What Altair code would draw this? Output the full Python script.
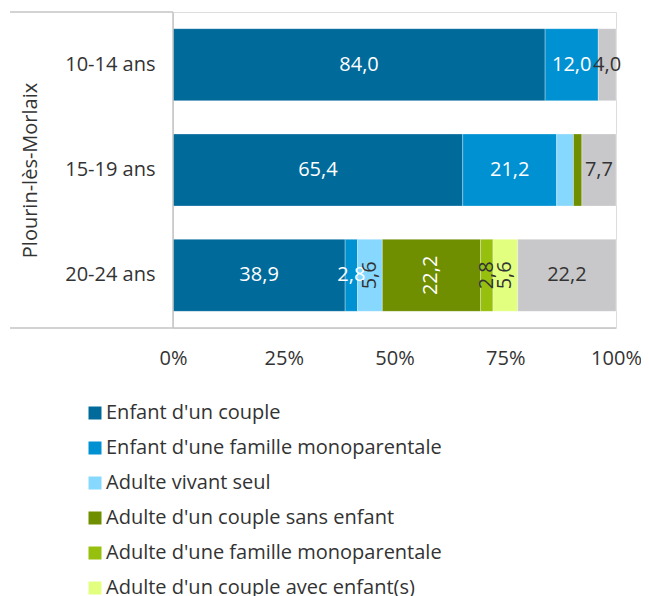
import altair as alt
import pandas as pd

ages = ["10-14 ans", "15-19 ans", "20-24 ans"]
categories = [
    "Enfant d'un couple",
    "Enfant d'une famille monoparentale",
    "Adulte vivant seul",
    "Adulte d'un couple sans enfant",
    "Adulte d'une famille monoparentale",
    "Adulte d'un couple avec enfant(s)",
    "Autre situation",
]
colors = ["#006a9b", "#0091d3", "#87d8ff", "#6f8e00", "#97bf0d", "#e3ff80", "#c8c8ca"]
text_colors = ["white", "white", "#333333", "white", "#333333", "#333333", "#333333"]

values_10_14 = [84.0, 12.0, 0.0, 0.0, 0.0, 0.0, 4.0]
values_15_19 = [65.4, 21.2, 3.8, 1.9, 0.0, 0.0, 7.7]
values_20_24 = [38.9, 2.8, 5.6, 22.2, 2.8, 5.6, 22.2]

hidden_labels = [("15-19 ans", "Adulte vivant seul"), ("15-19 ans", "Adulte d'un couple sans enfant")]
rotated_labels = [("20-24 ans", c) for c in categories[2:6]]

rows = []
for age, vals in zip(ages, [values_10_14, values_15_19, values_20_24]):
    total = sum(vals)
    cum = 0.0
    for i, (cat, v) in enumerate(zip(categories, vals)):
        if v <= 0:
            continue
        start = cum / total
        cum += v
        end = cum / total
        rows.append({
            "age": age,
            "category": cat,
            "order": i,
            "value": v,
            "start": start,
            "end": end,
            "mid": (start + end) / 2,
            "label": f"{v:.1f}".replace(".", ","),
            "tcolor": text_colors[i],
            "angle": 270 if (age, cat) in rotated_labels else 0,
            "show": (age, cat) not in hidden_labels,
        })
df = pd.DataFrame(rows)
tdf = df[df["show"]].copy()

LEFT = 165
W, H = 443, 316
line_color = "#c4c4c4"

yscale = alt.Scale(domain=ages, paddingInner=0.316, paddingOuter=0.158)

bars = alt.Chart(df).mark_bar(stroke="white", strokeWidth=0.5, strokeOpacity=0.6).encode(
    y=alt.Y("age:N", sort=ages, scale=yscale,
            axis=alt.Axis(title="Plourin-lès-Morlaix", domain=False, ticks=False,
                          labelPadding=18, labelFontSize=20, labelColor="#333333",
                          titleFontSize=20, titleFontWeight="normal", titleColor="#333333",
                          titleAngle=270, titleX=30 - 8 - LEFT, titleY=H / 2,
                          titleAlign="center", titleBaseline="middle")),
    x=alt.X("start:Q", scale=alt.Scale(domain=[0, 1], nice=False),
            axis=alt.Axis(title=None, format=".0%", values=[0, 0.25, 0.5, 0.75, 1],
                          domain=False, ticks=False, grid=False, labelPadding=20,
                          labelFontSize=20, labelColor="#333333", labelFlush=False)),
    x2="end:Q",
    color=alt.Color("category:N", scale=alt.Scale(domain=categories, range=colors),
                    legend=alt.Legend(title=None, orient="none", legendX=85 - 8 - LEFT, legendY=391,
                                      direction="vertical", symbolType="square",
                                      symbolSize=169, symbolStrokeWidth=0,
                                      labelFontSize=20, labelColor="#333333",
                                      labelOffset=1, rowPadding=15, labelLimit=0)),
    order=alt.Order("order:Q"),
)

texts = alt.Chart(tdf).mark_text(fontSize=20, align="center", baseline="middle").encode(
    y=alt.Y("age:N", sort=ages, scale=yscale),
    x=alt.X("mid:Q"),
    text="label:N",
    color=alt.Color("tcolor:N", scale=None),
    angle=alt.Angle("angle:Q", scale=None),
)

one = pd.DataFrame({"k": [0]})
x_left = 10 - 8 - LEFT
top_rule = alt.Chart(one).mark_rule(color=line_color, strokeWidth=1.5).encode(
    x=alt.value(x_left), x2=alt.value(0), y=alt.value(0))
bottom_rule = alt.Chart(one).mark_rule(color=line_color, strokeWidth=1.5).encode(
    x=alt.value(x_left), x2=alt.value(W), y=alt.value(H))
left_rule = alt.Chart(one).mark_rule(color=line_color, strokeWidth=1.5).encode(
    x=alt.value(0), y=alt.value(0), y2=alt.value(H))

chart = alt.layer(bars, texts, top_rule, bottom_rule, left_rule).properties(
    width=W, height=H,
    autosize=alt.AutoSizeParams(type="none"),
    padding={"left": LEFT, "top": 4, "right": 25, "bottom": 280},
).configure_view(stroke=None).configure(font="Open Sans")

chart.save("out.html", embed_options={"renderer": "svg", "actions": False})
